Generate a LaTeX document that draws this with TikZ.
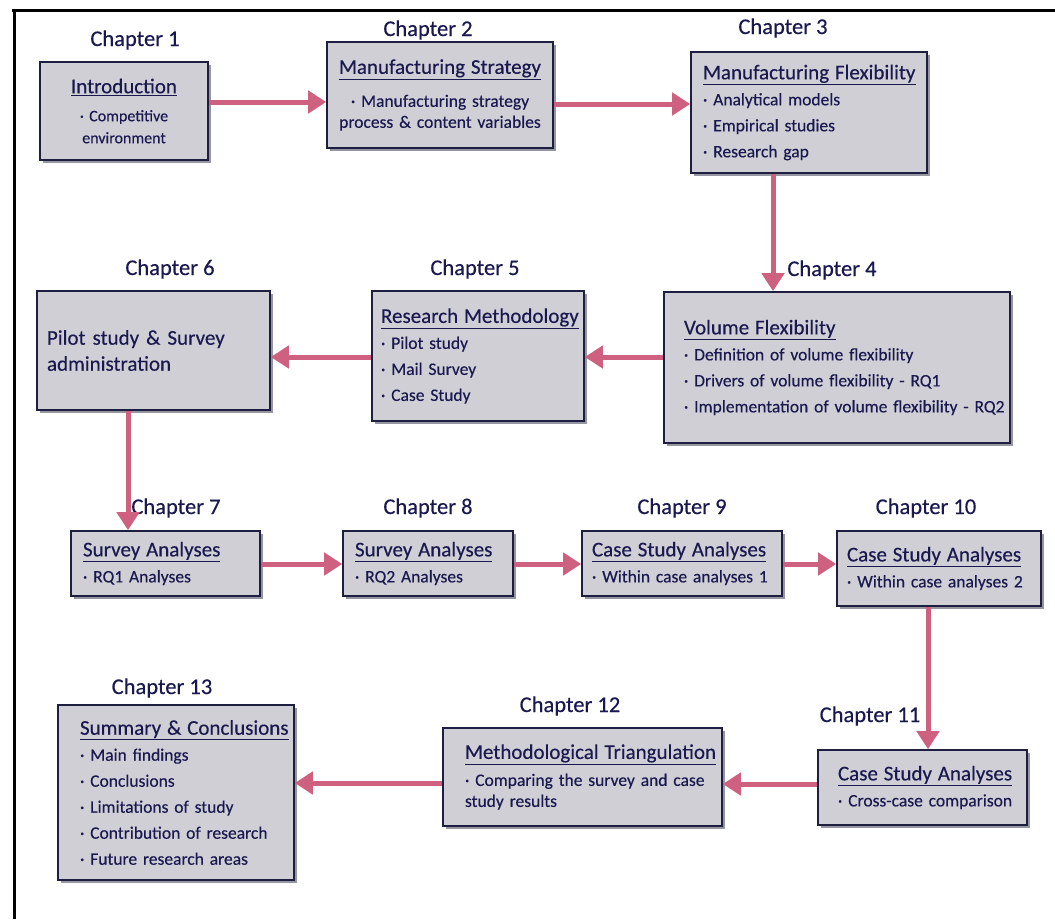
\documentclass[tikz,border=0pt]{standalone}
\usepackage{fontspec}
\setmainfont{Carlito}[FakeBold=0.3]
\usetikzlibrary{arrows.meta,shadows}
\definecolor{boxc}{RGB}{207,207,213}
\definecolor{bordc}{RGB}{30,30,65}
\definecolor{txtc}{RGB}{25,25,80}
\definecolor{arrc}{RGB}{206,96,128}
\definecolor{shc}{RGB}{150,150,162}
\newcommand\ttl[1]{{\fontsize{21}{26}\selectfont\underline{#1}}}
\begin{document}
\begin{tikzpicture}[x=1pt,y=-1pt,
  box/.style={draw=bordc, line width=1.6pt, fill=boxc, text=txtc, inner xsep=4pt, inner ysep=2pt,
    align=left, font=\fontsize{17.5}{26}\selectfont,
    drop shadow={shadow xshift=3pt, shadow yshift=-3pt, fill=shc, opacity=1}},
  lpad/.style={execute at begin node={\leftskip=#1\relax}},
  chap/.style={text=txtc, font=\fontsize{22.5}{26}\selectfont, inner sep=0pt},
  arr/.style={draw=arrc, line width=5pt, -{Triangle[width=22pt,length=18pt]}}]
\useasboundingbox (0,0) rectangle (1055,919);
\fill[white] (0,0) rectangle (1055,919);
\draw[line width=3pt] (12,10) -- (1055,10);
\draw[line width=3pt] (14,10) -- (14,919);

% boxes
\node[box, align=center, minimum width=168pt, minimum height=98pt, text width=160pt,
  font=\fontsize{16}{22}\selectfont] (c1) at (124,111)
  {\ttl{Introduction}\\[6pt] · Competitive\\ environment};
\node[box, align=center, minimum width=226pt, minimum height=106pt, text width=218pt,
  font=\fontsize{17.5}{21}\selectfont] (c2) at (440,95)
  {\ttl{Manufacturing Strategy}\\[12pt] · Manufacturing strategy\\ process \& content variables};
\node[box, lpad=8pt, minimum width=236pt, minimum height=121pt, text width=228pt] (c3) at (809,112.5)
  {\ttl{Manufacturing Flexibility}\\ · Analytical models\\ · Empirical studies\\ · Research gap};
\node[box, lpad=16pt, minimum width=346pt, minimum height=151pt, text width=338pt] (c4) at (837,367.5)
  {\ttl{Volume Flexibility}\\ · Definition of volume flexibility\\ · Drivers of volume flexibility - RQ1\\ · Implementation of volume flexibility - RQ2};
\node[box, lpad=5pt, minimum width=212pt, minimum height=130pt, text width=204pt] (c5) at (478,356)
  {\ttl{Research Methodology}\\ · Pilot study\\ · Mail Survey\\ · Case Study};
\node[box, lpad=6pt, minimum width=233pt, minimum height=119pt, text width=225pt,
  font=\fontsize{21}{26}\selectfont] (c6) at (153.5,350.5)
  {Pilot study \& Survey\\ administration};
\node[box, lpad=8pt, minimum width=189pt, minimum height=65pt, text width=181pt] (c7) at (165.5,563.5)
  {\ttl{Survey Analyses}\\ · RQ1 Analyses};
\node[box, lpad=8pt, minimum width=170pt, minimum height=65pt, text width=162pt] (c8) at (428,563.5)
  {\ttl{Survey Analyses}\\ · RQ2 Analyses};
\node[box, lpad=6pt, minimum width=200pt, minimum height=65pt, text width=192pt] (c9) at (682,563.5)
  {\ttl{Case Study Analyses}\\ · Within case analyses 1};
\node[box, lpad=6pt, minimum width=204pt, minimum height=75pt, text width=196pt] (c10) at (939,568.5)
  {\ttl{Case Study Analyses}\\ · Within case analyses 2};
\node[box, lpad=16pt, minimum width=209pt, minimum height=75pt, text width=201pt] (c11) at (922.5,787.5)
  {\ttl{Case Study Analyses}\\ · Cross-case comparison};
\node[box, lpad=18pt, minimum width=279pt, minimum height=98pt, text width=271pt,
  font=\fontsize{17.5}{21}\selectfont] (c12) at (582.5,777)
  {\ttl{Methodological Triangulation}\\[6pt] · Comparing the survey and case\\ study results};
\node[box, lpad=18pt, minimum width=236pt, minimum height=175pt, text width=228pt] (c13) at (176,792.5)
  {\ttl{Summary \& Conclusions}\\ · Main findings\\ · Conclusions\\ · Limitations of study\\ · Contribution of research\\ · Future research areas};

% chapter labels
\node[chap] (l1) at (135,40) {Chapter 1};
\node[chap] (l2) at (428,30) {Chapter 2};
\node[chap] (l3) at (783,28) {Chapter 3};
\node[chap] (l4) at (832,270) {Chapter 4};
\node[chap] (l5) at (475,269) {Chapter 5};
\node[chap] (l6) at (170,269) {Chapter 6};
\node[chap] (l7) at (176,508) {Chapter 7};
\node[chap] (l8) at (428,508) {Chapter 8};
\node[chap] (l9) at (682,508) {Chapter 9};
\node[chap] (l10) at (926,508) {Chapter 10};
\node[chap] (l11) at (870,716) {Chapter 11};
\node[chap] (l12) at (570,706) {Chapter 12};
\node[chap] (l13) at (162,688) {Chapter 13};

% arrows
\draw[arr] (c1.east |- 0,102) -- (c2.west |- 0,102);
\draw[arr] (c2.east |- 0,104) -- (c3.west |- 0,104);
\draw[arr] (c3.south -| 773,0) -- (c4.north -| 773,0);
\draw[arr] (c4.west |- 0,357) -- (c5.east |- 0,357);
\draw[arr] (c5.west |- 0,357) -- (c6.east |- 0,357);
\draw[arr] (c6.south -| 128,0) -- (c7.north -| 128,0);
\draw[arr] (c7.east |- 0,564) -- (c8.west |- 0,564);
\draw[arr] (c8.east |- 0,564) -- (c9.west |- 0,564);
\draw[arr] (c9.east |- 0,564) -- (c10.west |- 0,564);
\draw[arr] (c10.south -| 928,0) -- (c11.north -| 928,0);
\draw[arr] (c11.west |- 0,784) -- (c12.east |- 0,784);
\draw[arr] (c12.west |- 0,783) -- (c13.east |- 0,783);
\end{tikzpicture}
\end{document}
